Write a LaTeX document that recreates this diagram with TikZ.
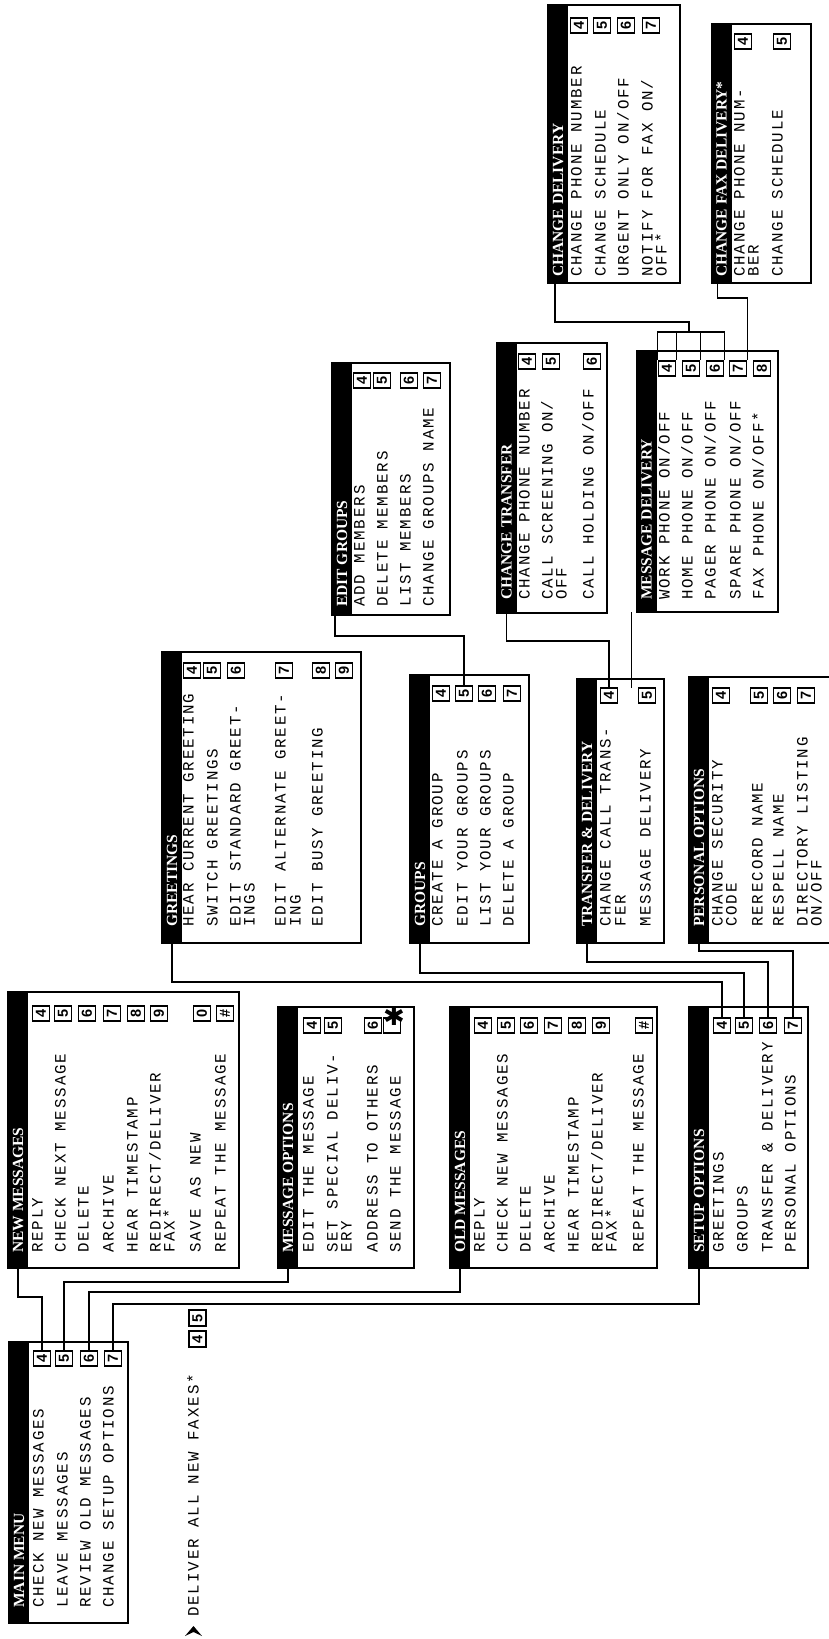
\documentclass[tikz,border=0pt]{standalone}
\usepackage{fontspec}
\usepackage{graphicx}
\usetikzlibrary{calc}
\newfontfamily\menufont[LetterSpace=12]{Liberation Mono}
\newfontfamily\headfont{Liberation Serif}
\newfontfamily\keyfont{Liberation Sans}
\newfontfamily\symfont{DejaVu Sans}

\begin{document}
\begin{tikzpicture}[x=1pt,y=-1pt,
  bar/.style={fill=black,inner sep=0,minimum width=20},
  frame/.style={line width=1.8},
  head/.style={anchor=west,rotate=90,inner sep=0,text=white,
    font=\headfont\bfseries\fontsize{15.5}{16}\selectfont},
  item/.style={anchor=base west,rotate=90,inner sep=0,
    font=\menufont\fontsize{15.8}{16}\selectfont},
  key/.style={draw,line width=1.8,inner sep=0,minimum width=17,minimum height=15.5,
    font=\keyfont\bfseries\fontsize{14.5}{14.5}\selectfont},
  wire/.style={line width=1.6}]
  \useasboundingbox (0,0) rectangle (829,1639);
  \clip (0,0) rectangle (829,1639);

  % main menu x=9..128
  \node[bar,minimum height=281] (mmbar) at (19,1482.5) {};
  \draw[frame] (9,1342) rectangle (128,1623);
  \node[head] (mmhead) at (19,1608) {MAIN MENU};
  \foreach \x/\t [count=\i] in {33/{CHECK NEW MESSAGES},57/{LEAVE MESSAGES},
      80/{REVIEW OLD MESSAGES},103/{CHANGE SETUP OPTIONS}}
    \node[item] (mm-t\i) at (\x+10.5,1608) {\t};
  \foreach \x/\k in {33/4,55/5,80/6,104/7}
    \node[key] (mm\k) at (\x+9,1358.5) {\rotatebox{90}{\k}};

  % fax line
  \fill (185,1636) -- (193.5,1626) -- (202,1636) -- (193.5,1632) -- cycle;
  \node[item] (faxall) at (198.5,1617) {DELIVER ALL NEW FAXES*};
  \node[key] (fax4) at (197.5,1339) {\rotatebox{90}{4}};
  \node[key] (fax5) at (197.5,1318) {\rotatebox{90}{5}};

  % new messages
  \node[bar,minimum height=276] (nmbar) at (18,1130) {};
  \draw[frame] (8,992) rectangle (239,1268);
  \node[head] (nmhead) at (18,1253) {NEW MESSAGES};
  \foreach \x/\t [count=\i] in {32/REPLY,55/{CHECK NEXT MESSAGE},78/DELETE,
      103/ARCHIVE,127/{HEAR TIMESTAMP},150/{REDIRECT/DELIVER},164/{FAX*},
      190/{SAVE AS NEW},215/{REPEAT THE MESSAGE}}
    \node[item] (nm-t\i) at (\x+10.5,1253) {\t};
  \foreach \x/\k in {32/4,54/5,78/6,103/7,127/8,150/9,193/0}
    \node[key] (nm\k) at (\x+9,1013.5) {\rotatebox{90}{\k}};
  \node[key] (nmhash) at (225,1013.5) {\rotatebox{90}{\#}};

  % message options
  \node[bar,minimum height=261] (mobar) at (288,1137.5) {};
  \draw[frame] (278,1007) rectangle (414,1268);
  \node[head] (mohead) at (288,1253) {MESSAGE OPTIONS};
  \foreach \x/\t [count=\i] in {303/{EDIT THE MESSAGE},327/{SET SPECIAL DELIV-},
      341/ERY,367/{ADDRESS TO OTHERS},390/{SEND THE MESSAGE}}
    \node[item] (mo-t\i) at (\x+10.5,1253) {\t};
  \foreach \x/\k in {303/4,324/5,364/6}
    \node[key] (mo\k) at (\x+9,1025.5) {\rotatebox{90}{\k}};
  \node[key] (mostar) at (392,1025.5) {};
  \node[inner sep=0,font=\symfont\fontsize{26}{26}\selectfont] (moast) at (394,1016) {✱};

  % old messages
  \node[bar,minimum height=261] (ombar) at (460,1137.5) {};
  \draw[frame] (450,1007) rectangle (657,1268);
  \node[head] (omhead) at (460,1253) {OLD MESSAGES};
  \foreach \x/\t [count=\i] in {474/REPLY,497/{CHECK NEW MESSAGES},520/DELETE,
      544/ARCHIVE,568/{HEAR TIMESTAMP},592/{REDIRECT/DELIVER},606/{FAX*},
      633/{REPEAT THE MESSAGE}}
    \node[item] (om-t\i) at (\x+10.5,1253) {\t};
  \foreach \x/\k in {474/4,497/5,520/6,544/7,568/8,592/9}
    \node[key] (om\k) at (\x+9,1025.5) {\rotatebox{90}{\k}};
  \node[key] (omhash) at (644,1025.5) {\rotatebox{90}{\#}};

  % setup options
  \node[bar,minimum height=261] (sobar) at (699,1137.5) {};
  \draw[frame] (689,1007) rectangle (808,1268);
  \node[head] (sohead) at (699,1253) {SETUP OPTIONS};
  \foreach \x/\t [count=\i] in {713/GREETINGS,737/GROUPS,
      762/{TRANSFER \& DELIVERY},785/{PERSONAL OPTIONS}}
    \node[item] (so-t\i) at (\x+10.5,1253) {\t};
  \foreach \x/\k in {713/4,735/5,759/6,784/7}
    \node[key] (so\k) at (\x+9,1025.5) {\rotatebox{90}{\k}};

  % greetings
  \node[bar,minimum height=291] (grbar) at (172,797.5) {};
  \draw[frame] (162,652) rectangle (361,943);
  \node[head] (grhead) at (172,927) {GREETINGS};
  \foreach \x/\t [count=\i] in {183/{HEAR CURRENT GREETING},207/{SWITCH GREETINGS},
      230/{EDIT STANDARD GREET-},244/INGS,275/{EDIT ALTERNATE GREET-},290/ING,
      312/{EDIT BUSY GREETING}}
    \node[item] (gr-t\i) at (\x+10.5,927) {\t};
  \foreach \x/\k in {183/4,203/5,227/6,275/7,312/8,335/9}
    \node[key] (gr\k) at (\x+9,670.5) {\rotatebox{90}{\k}};

  % groups
  \node[bar,minimum height=268] (gpbar) at (420,809) {};
  \draw[frame] (410,675) rectangle (529,943);
  \node[head] (gphead) at (420,927) {GROUPS};
  \foreach \x/\t [count=\i] in {432/{CREATE A GROUP},457/{EDIT YOUR GROUPS},
      480/{LIST YOUR GROUPS},503/{DELETE A GROUP}}
    \node[item] (gp-t\i) at (\x+10.5,927) {\t};
  \foreach \x/\k in {432/4,455/5,478/6,503/7}
    \node[key] (gp\k) at (\x+9,693.5) {\rotatebox{90}{\k}};

  % transfer and delivery
  \node[bar,minimum height=264] (tdbar) at (587,811) {};
  \draw[frame] (577,679) rectangle (664,943);
  \node[head] (tdhead) at (587,927) {TRANSFER \& DELIVERY};
  \foreach \x/\t [count=\i] in {600/{CHANGE CALL TRANS-},615/FER,640/{MESSAGE DELIVERY}}
    \node[item] (td-t\i) at (\x+10.5,927) {\t};
  \foreach \x/\k in {600/4,638/5}
    \node[key] (td\k) at (\x+9,695.5) {\rotatebox{90}{\k}};

  % personal options (runs off the page)
  \node[bar,minimum height=266] (pobar) at (699,810) {};
  \draw[frame] (689,677) rectangle (850,943);
  \node[head] (pohead) at (699,927) {PERSONAL OPTIONS};
  \foreach \x/\t [count=\i] in {712/{CHANGE SECURITY},726/CODE,752/{RERECORD NAME},
      773/{RESPELL NAME},797/{DIRECTORY LISTING},811/{ON/OFF}}
    \node[item] (po-t\i) at (\x+10.5,927) {\t};
  \foreach \x/\k in {712/4,750/5,773/6,797/7}
    \node[key] (po\k) at (\x+9,695.5) {\rotatebox{90}{\k}};

  % edit groups
  \node[bar,minimum height=252] (egbar) at (342,489) {};
  \draw[frame] (332,363) rectangle (450,615);
  \node[head] (eghead) at (342,607) {EDIT GROUPS};
  \foreach \x/\t [count=\i] in {354/{ADD MEMBERS},377/{DELETE MEMBERS},
      400/{LIST MEMBERS},423/{CHANGE GROUPS NAME}}
    \node[item] (eg-t\i) at (\x+10.5,607) {\t};
  \foreach \x/\k in {353/4,373/5,400/6,423/7}
    \node[key] (eg\k) at (\x+9,380.5) {\rotatebox{90}{\k}};

  % change transfer
  \node[bar,minimum height=270] (ctbar) at (506.5,478) {};
  \draw[frame] (497,343) rectangle (607,613);
  \node[head] (cthead) at (506.5,600) {CHANGE TRANSFER};
  \foreach \x/\t [count=\i] in {519/{CHANGE PHONE NUMBER},542/{CALL SCREENING ON/},
      556/OFF,583/{CALL HOLDING ON/OFF}}
    \node[item] (ct-t\i) at (\x+10.5,600) {\t};
  \foreach \x/\k in {518/4,542/5,583/6}
    \node[key] (ct\k) at (\x+9,361.5) {\rotatebox{90}{\k}};

  % message delivery
  \node[bar,minimum height=261] (mdbar) at (646.5,481.5) {};
  \draw[frame] (637,351) rectangle (778,612);
  \node[head] (mdhead) at (646.5,600) {MESSAGE DELIVERY};
  \foreach \x/\t [count=\i] in {659/{WORK PHONE ON/OFF},682/{HOME PHONE ON/OFF},
      705/{PAGER PHONE ON/OFF},730/{SPARE PHONE ON/OFF},753/{FAX PHONE ON/OFF*}}
    \node[item] (md-t\i) at (\x+10.5,600) {\t};
  \foreach \x/\k in {658/4,682/5,706/6,729/7,753/8}
    \node[key] (md\k) at (\x+9,368.5) {\rotatebox{90}{\k}};

  % change delivery
  \node[bar,minimum height=278] (cdbar) at (558,144) {};
  \draw[frame] (548,5) rectangle (680,283);
  \node[head] (cdhead) at (558,277) {CHANGE DELIVERY};
  \foreach \x/\t [count=\i] in {571/{CHANGE PHONE NUMBER},595/{CHANGE SCHEDULE},
      618/{URGENT ONLY ON/OFF},642/{NOTIFY FOR FAX ON/},656/{OFF*}}
    \node[item] (cd-t\i) at (\x+10.5,277) {\t};
  \foreach \x/\k in {570/4,593/5,617/6,642/7}
    \node[key] (cd\k) at (\x+9,25.5) {\rotatebox{90}{\k}};

  % change fax delivery
  \node[bar,minimum height=259] (cfbar) at (721.5,153.5) {};
  \draw[frame] (712,24) rectangle (811,283);
  \node[head] (cfhead) at (721.5,277) {CHANGE FAX DELIVERY*};
  \foreach \x/\t [count=\i] in {734/{CHANGE PHONE NUM-},748/BER,772/{CHANGE SCHEDULE}}
    \node[item] (cf-t\i) at (\x+10.5,277) {\t};
  \foreach \x/\k in {734/4,773/5}
    \node[key] (cf\k) at (\x+9,41.5) {\rotatebox{90}{\k}};

  % connectors to main menu
  \draw[wire] (nmbar.south) -- ++(0,29) -| (mm4.north);
  \draw[wire] (mobar.south) -- ++(0,14) -| (mm5.north);
  \draw[wire] (ombar.south) -- ++(0,24) -| (mm6.north);
  \draw[wire] (sobar.south) -- ++(0,36) -| (mm7.north);
  % connectors to setup options
  \draw[wire] (grbar.south) -- ++(0,39) -| (so4.north);
  \draw[wire] (gpbar.south) -- ++(0,30) -| (so5.north);
  \draw[wire] (tdbar.south) -- ++(0,19) -| (so6.north);
  \draw[wire] (pobar.south) -- ++(0,8) -| (so7.north);
  % upper level
  \draw[wire] ([xshift=-7]egbar.south) -- ++(0,21) -| (gp5.north);
  \draw[wire] (ctbar.south) -- ++(0,28) -| (td4.north);
  \draw[wire] ([xshift=-5]mdbar.south west) -- ++(0,76);
  \draw[wire] (md4.north west) -- ++(0,-28) -| (md6.north east);
  \draw[wire] (md4.north east) -- ++(0,-28);
  \draw[wire] (md5.north east) -- ++(0,-28);
  \draw[wire] ([xshift=-3]cdbar.south) -- ++(0,39) -| ($(md5.north)+(-2,-28)$);
  \draw[wire] ([xshift=-4]cfbar.south) -- ++(0,15) -| (md7.north east);
\end{tikzpicture}
\end{document}
